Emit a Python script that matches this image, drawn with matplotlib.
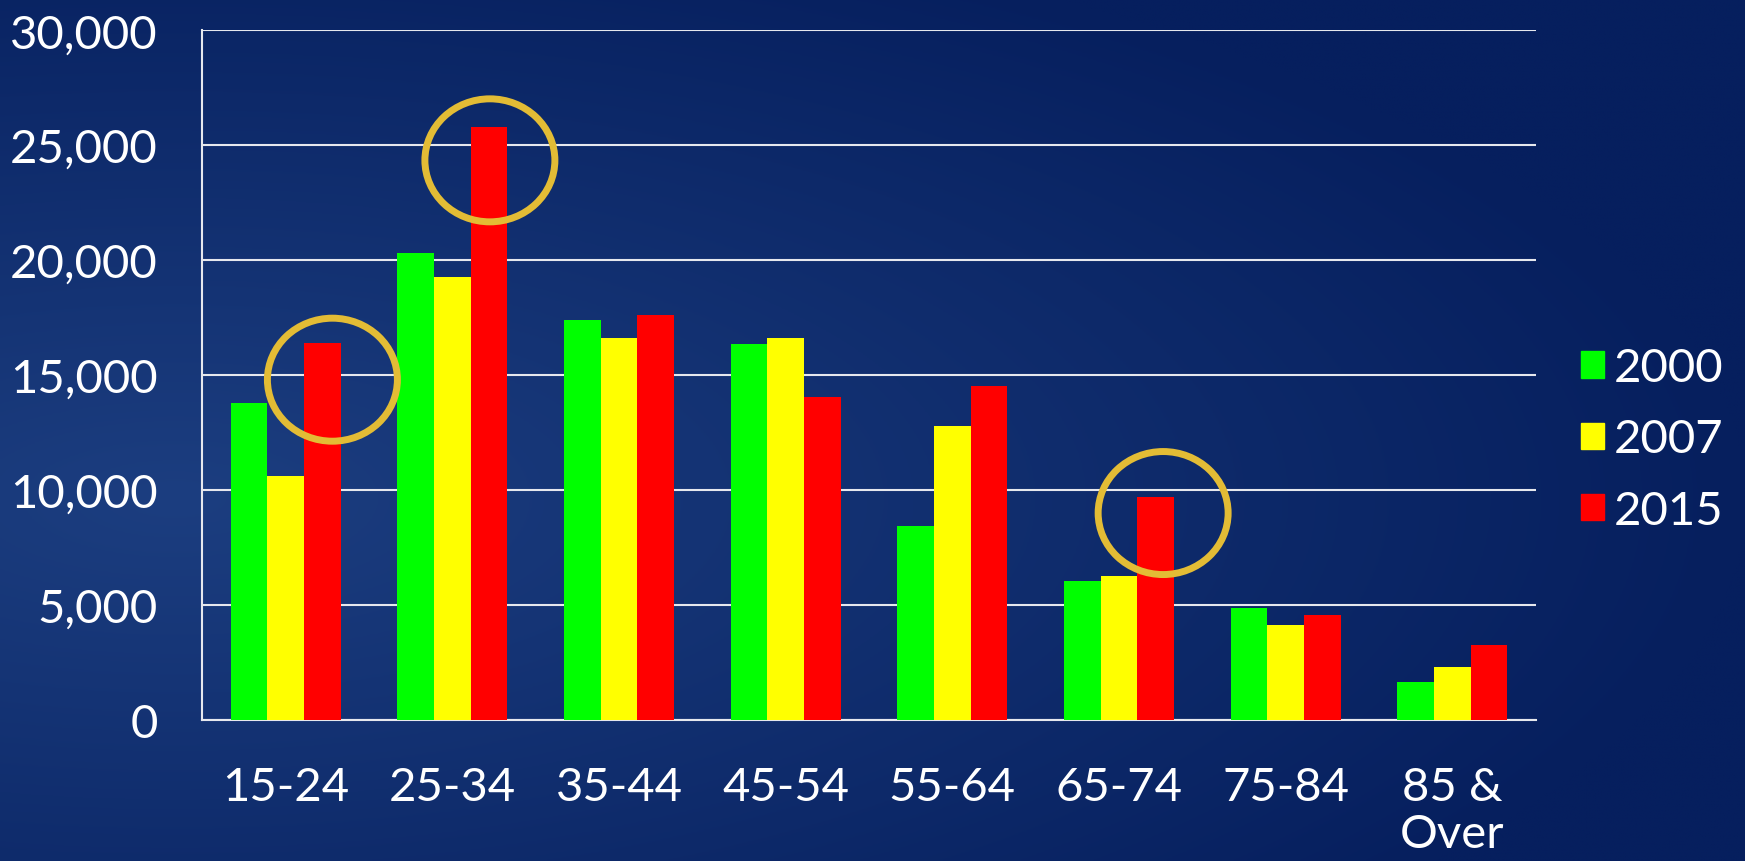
import numpy as np
import matplotlib
matplotlib.use('Agg')
from matplotlib import pyplot as plt
from matplotlib.patches import Ellipse, Patch

# Data.
age_groups = ['15-24', '25-34', '35-44', '45-54', '55-64', '65-74', '75-84', '85 &\nOver']
years = ['2000', '2007', '2015']
vals_2000 = [13800, 20300, 17400, 16350, 8450, 6050, 4880, 1640]
vals_2007 = [10600, 19250, 16600, 16600, 12800, 6270, 4110, 2320]
vals_2015 = [16400, 25800, 17600, 14060, 14530, 9710, 4560, 3260]
yticks = [0, 5000, 10000, 15000, 20000, 25000, 30000]
# Groups whose 2015 bar is circled, with the circle's shift from the bar top.
circled = [0, 1, 5]
circle_dx = [0.06, 0.005, 0.045]
circle_dy = [-1600, -1460, -710]

colors = ['#00FF00', '#FFFF00', '#FF0000']
plt.rcParams['font.family'] = ['Lato', 'DejaVu Sans']

fig = plt.figure(dpi=100, figsize=(17.45, 8.62))

# Background: navy with a lighter glow on the left.
bg = fig.add_axes([0, 0, 1, 1], zorder=-10)
yy, xx = np.mgrid[0:1:300j, 0:1:600j]
d = np.sqrt(((xx - 0.1) / 0.9) ** 2 + ((yy - 0.42) / 0.7) ** 2)
glow = np.clip(1 - d, 0, 1)
dark = np.array([6, 31, 94]) / 255
light = np.array([28, 62, 128]) / 255
img = dark + glow[..., None] * (light - dark)
bg.imshow(img, aspect='auto', extent=[0, 1, 0, 1], origin='lower')
bg.axis('off')

ax = fig.add_axes([0.116, 0.1636, 0.764, 0.8002])
ax.set_facecolor('none')

x = np.arange(len(age_groups))
w = 0.22
series = [vals_2000, vals_2007, vals_2015]
for i, vals in enumerate(series):
    ax.bar(x + (i - 1) * w, vals, width=w, color=colors[i], zorder=3)

# Gold circles round the highlighted 2015 bars.
for k, dx, dy in zip(circled, circle_dx, circle_dy):
    ax.add_patch(Ellipse((x[k] + w + dx, vals_2015[k] + dy), width=0.78, height=5350,
                         fill=False, edgecolor='#E3BC35', lw=5, zorder=4))

ax.set_xlim(-0.5, len(age_groups) - 0.5)
ax.set_ylim(0, 30000)
ax.set_yticks(yticks)
ax.set_yticklabels([f'{v:,}' for v in yticks])
ax.set_xticks(x)
ax.set_xticklabels(age_groups, va='top', linespacing=1.15)
ax.yaxis.grid(True, color='#E6E8EE', lw=1.5, zorder=0)
ax.set_axisbelow(True)
for side in ['top', 'right']:
    ax.spines[side].set_visible(False)
for side in ['left', 'bottom']:
    ax.spines[side].set_color('#E6E8EE')
    ax.spines[side].set_linewidth(1.5)
ax.tick_params(axis='both', length=0, labelsize=34, labelcolor='white')
ax.tick_params(axis='y', pad=32)
ax.tick_params(axis='x', pad=33)

handles = [Patch(color=c, label=y) for c, y in zip(colors, years)]
leg = fig.legend(handles=handles, loc='center left', bbox_to_anchor=(0.906, 0.489),
                 frameon=False, fontsize=34, handlelength=0.48, handleheight=0.48,
                 handletextpad=0.22, labelspacing=0.62, labelcolor='white',
                 borderaxespad=0, borderpad=0)

fig.savefig('out.png', dpi=100)
